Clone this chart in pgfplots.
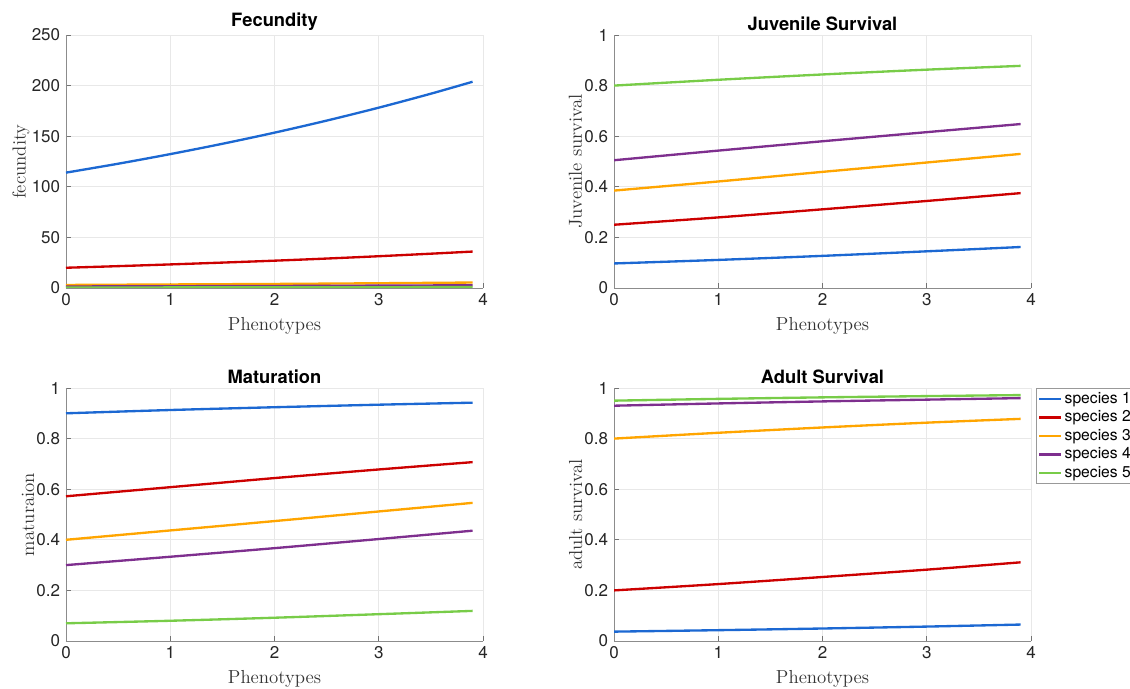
\documentclass[border=0pt]{standalone}
\usepackage{pgfplots}
\pgfplotsset{compat=1.18}
\usepackage{fontspec}
\newfontfamily\hv{TeX Gyre Heros}
\definecolor{sblue}{RGB}{28,104,210}
\definecolor{sred}{RGB}{204,0,0}
\definecolor{sorange}{RGB}{255,165,0}
\definecolor{spurple}{RGB}{126,47,142}
\definecolor{sgreen}{RGB}{120,204,72}
\pgfplotsset{
  mstyle/.style={
    scale only axis, width=250.2pt, height=151.8pt,
    xmin=0, xmax=4, xtick={0,1,2,3,4},
    axis x line*=bottom, axis y line*=left,
    axis line style={draw=black!45, line width=0.5pt, -},
    grid=major, major grid style={draw=black!9, line width=0.4pt},
    tick style={draw=black!55, line width=0.4pt}, tick align=inside, major tick length=3pt,
    tick label style={font=\hv\fontsize{10.2}{12}\selectfont, text=black!85},
    /pgf/number format/assume math mode=true,
    title style={font=\hv\bfseries\fontsize{11}{13}\selectfont, yshift=-7pt},
    label style={font=\fontsize{11.3}{13}\selectfont, text=black!80},
    ylabel style={yshift=-5.5pt},
    xlabel={Phenotypes},
    every axis plot/.append style={line width=1.4pt, no markers, smooth},
  }
}
\begin{document}
\begin{tikzpicture}
\useasboundingbox (0,0) rectangle (678pt,412.8pt);
% Fecundity
\begin{axis}[mstyle, at={(39.6pt,240pt)}, anchor=south west,
  ymin=0, ymax=250, ytick={0,50,100,150,200,250},
  title={Fecundity}, ylabel={fecundity}]
\addplot[sblue] coordinates {(0,114) (0.5,122.8) (1,132.3) (1.5,142.5) (2,153.5) (2.5,165.4) (3,178.2) (3.5,192.0) (3.9,203.8)};
\addplot[sred] coordinates {(0,20) (0.5,21.6) (1,23.3) (1.5,25.1) (2,27.0) (2.5,29.1) (3,31.4) (3.5,33.9) (3.9,36.0)};
\addplot[sorange] coordinates {(0,3.0) (1,3.5) (2,4.0) (3,4.7) (3.9,5.4)};
\addplot[spurple] coordinates {(0,1.5) (1,1.75) (2,2.0) (3,2.35) (3.9,2.7)};
\addplot[sgreen] coordinates {(0,0.5) (1,0.58) (2,0.67) (3,0.78) (3.9,0.9)};
\end{axis}
% Juvenile survival
\begin{axis}[mstyle, at={(368.4pt,240pt)}, anchor=south west,
  ymin=0, ymax=1, ytick={0,0.2,0.4,0.6,0.8,1},
  title={Juvenile Survival}, ylabel={Juvenile survival}]
\addplot[sblue] coordinates {(0,0.097) (1,0.111) (2,0.127) (3,0.145) (3.9,0.162)};
\addplot[sred] coordinates {(0,0.25) (1,0.279) (2,0.311) (3,0.344) (3.9,0.375)};
\addplot[sorange] coordinates {(0,0.385) (1,0.421) (2,0.459) (3,0.496) (3.9,0.530)};
\addplot[spurple] coordinates {(0,0.505) (1,0.543) (2,0.580) (3,0.616) (3.9,0.648)};
\addplot[sgreen] coordinates {(0,0.80) (1,0.823) (2,0.844) (3,0.863) (3.9,0.878)};
\end{axis}
% Maturation
\begin{axis}[mstyle, at={(39.6pt,28.2pt)}, anchor=south west,
  ymin=0, ymax=1, ytick={0,0.2,0.4,0.6,0.8,1},
  title={Maturation}, ylabel={maturaion}]
\addplot[sblue] coordinates {(0,0.90) (1,0.913) (2,0.924) (3,0.934) (3.9,0.942)};
\addplot[sred] coordinates {(0,0.572) (1,0.608) (2,0.644) (3,0.678) (3.9,0.707)};
\addplot[sorange] coordinates {(0,0.40) (1,0.437) (2,0.474) (3,0.512) (3.9,0.546)};
\addplot[spurple] coordinates {(0,0.30) (1,0.333) (2,0.367) (3,0.403) (3.9,0.436)};
\addplot[sgreen] coordinates {(0,0.07) (1,0.080) (2,0.092) (3,0.106) (3.9,0.119)};
\end{axis}
% Adult survival
\begin{axis}[mstyle, at={(368.4pt,28.2pt)}, anchor=south west,
  ymin=0, ymax=1, ytick={0,0.2,0.4,0.6,0.8,1},
  title={Adult Survival}, ylabel={adult survival},
  legend cell align=left,
  legend image code/.code={\draw[#1] (0pt,0pt) -- (13pt,0pt);},
  legend style={at={(1.012,1)}, anchor=north west, draw=black!40, line width=0.4pt,
    font=\hv\fontsize{9.4}{11}\selectfont, inner xsep=1pt, inner ysep=0.8pt,
    row sep=-0.3pt, nodes={inner sep=1.6pt}}]
\addplot[sblue] coordinates {(0,0.037) (1,0.0428) (2,0.0494) (3,0.057) (3.9,0.065)};
\addplot[sred] coordinates {(0,0.20) (1,0.225) (2,0.253) (3,0.282) (3.9,0.311)};
\addplot[sorange] coordinates {(0,0.80) (1,0.823) (2,0.844) (3,0.863) (3.9,0.878)};
\addplot[spurple] coordinates {(0,0.93) (1,0.939) (2,0.947) (3,0.954) (3.9,0.960)};
\addplot[sgreen] coordinates {(0,0.95) (1,0.957) (2,0.963) (3,0.968) (3.9,0.972)};
\legend{species 1, species 2, species 3, species 4, species 5}
\end{axis}
\end{tikzpicture}
\end{document}
